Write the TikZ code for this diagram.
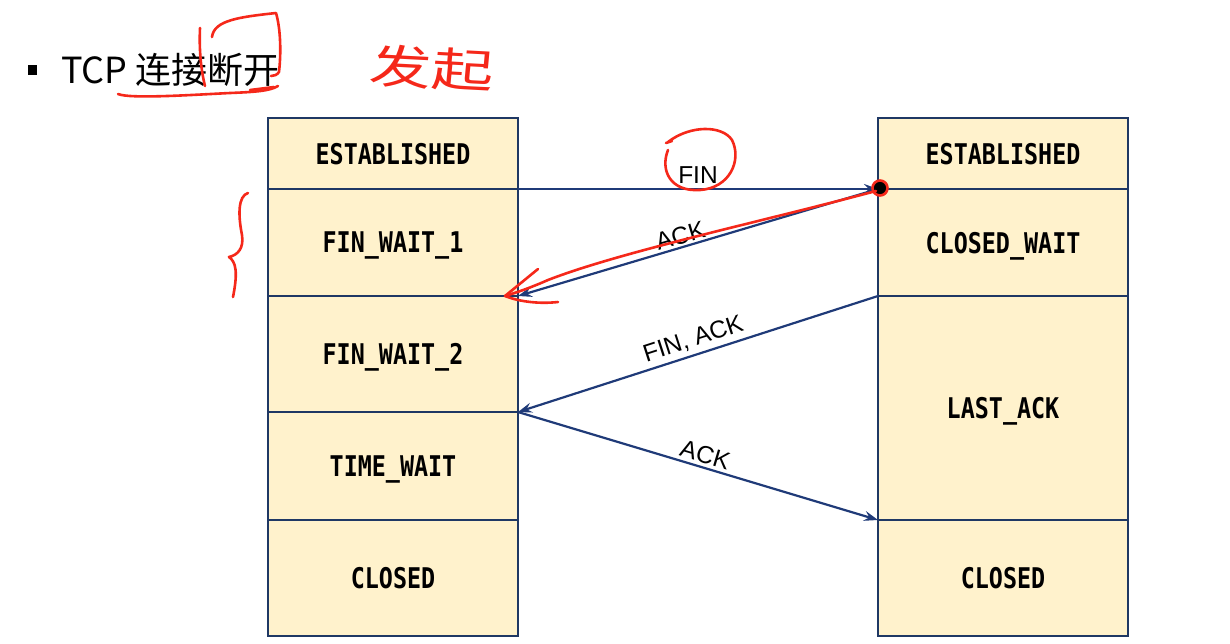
\documentclass[tikz,border=0pt]{standalone}
\usepackage{fontspec}
\setmainfont{Liberation Sans}
\newfontfamily\cjkfont{Noto Sans CJK SC}
\newfontfamily\statefont[FakeStretch=0.82]{DejaVu Sans Mono}
\usetikzlibrary{arrows.meta}
\definecolor{navy}{HTML}{1F3864}
\definecolor{arrowblue}{HTML}{1F3A78}
\definecolor{cream}{HTML}{FFF2CC}
\definecolor{pen}{HTML}{F5281A}
\begin{document}
\begin{tikzpicture}[x=1pt,y=-1pt,
  state/.style={draw=navy,fill=cream,line width=1.4pt,minimum width=250pt,inner sep=0pt,outer sep=0pt,
    font=\statefont\bfseries\fontsize{28.5}{30}\selectfont,text depth=-3pt},
  msg/.style={draw=arrowblue,line width=2.2pt,-{Stealth[length=14pt,width=10pt,inset=5pt]}},
  lbl/.style={font=\fontsize{24.5}{26}\selectfont,inner sep=3pt},
  pen/.style={draw=pen,line width=2.6pt,line cap=round,line join=round}]
\useasboundingbox (0,0) rectangle (1230,643);
% title
\fill (28,65) rectangle (37,75);
\node[anchor=base west,inner sep=0pt,font=\cjkfont\fontsize{36}{40}\selectfont] (title) at (61,83) {TCP 连接断开};
% left column
\node[state,minimum height=71pt]  (l1) at (393,153.5) {ESTABLISHED};
\node[state,minimum height=107pt] (l2) at (393,242.5) {FIN\_WAIT\_1};
\node[state,minimum height=116pt] (l3) at (393,354) {FIN\_WAIT\_2};
\node[state,minimum height=108pt] (l4) at (393,466) {TIME\_WAIT};
\node[state,minimum height=116pt] (l5) at (393,578) {CLOSED};
% right column
\node[state,minimum height=71pt]  (r1) at (1003,153.5) {ESTABLISHED};
\node[state,minimum height=107pt] (r2) at (1003,242.5) {CLOSED\_WAIT};
\node[state,minimum height=224pt] (r3) at (1003,408) {LAST\_ACK};
\node[state,minimum height=116pt] (r4) at (1003,578) {CLOSED};
% messages
\draw[msg] (l1.south east) -- node[lbl,above,pos=0.5,yshift=1pt] (m1) {FIN} (r1.south west);
\draw[msg] (r2.north west) -- node[lbl,above,pos=0.54,rotate=16.5,yshift=-1pt] (m2) {ACK} (l2.south east);
\draw[msg] (r2.south west) -- node[lbl,above,pos=0.5,rotate=17.9,yshift=1pt] (m3) {FIN, ACK} (l3.south east);
\draw[msg] (l4.north east) -- node[lbl,above,pos=0.51,rotate=-16.7] (m4) {ACK} (r3.south west);
% handwritten annotations
\draw[pen] (118,94) .. controls (130,99) and (190,95) .. (230,93) .. controls (255,92) and (270,91) .. (278,86);
\draw[pen] (250,90) -- (274,87);
\draw[pen] (200,28) .. controls (199,50) and (201,70) .. (205,86);
\draw[pen] (212,37) .. controls (214,20) and (240,17) .. (276,13) .. controls (281,30) and (281,55) .. (279,72) .. controls (277,75) and (274,76) .. (271,76);
\node[text=pen,font=\cjkfont\fontsize{46}{50}\selectfont,xscale=1.35,rotate=-4] (faqi) at (432,68) {发起};
\draw[pen] (668,150) .. controls (660,170) and (670,192) .. (700,190) .. controls (730,188) and (742,160) .. (732,140) .. controls (722,125) and (690,125) .. (668,142);
\draw[pen] (666,143) -- (672,141);
\fill[pen] (880,188) circle (7.5);
\draw[pen] (876,191) .. controls (760,222) and (620,252) .. (548,280) .. controls (530,288) and (515,293) .. (505,296);
\draw[pen] (538,269) -- (505,296) .. controls (520,302) and (540,304) .. (558,302);
\draw[pen] (248,193) .. controls (238,196) and (238,215) .. (242,235) .. controls (244,248) and (238,255) .. (229,257) .. controls (236,262) and (238,272) .. (233,297);
\end{tikzpicture}
\end{document}
